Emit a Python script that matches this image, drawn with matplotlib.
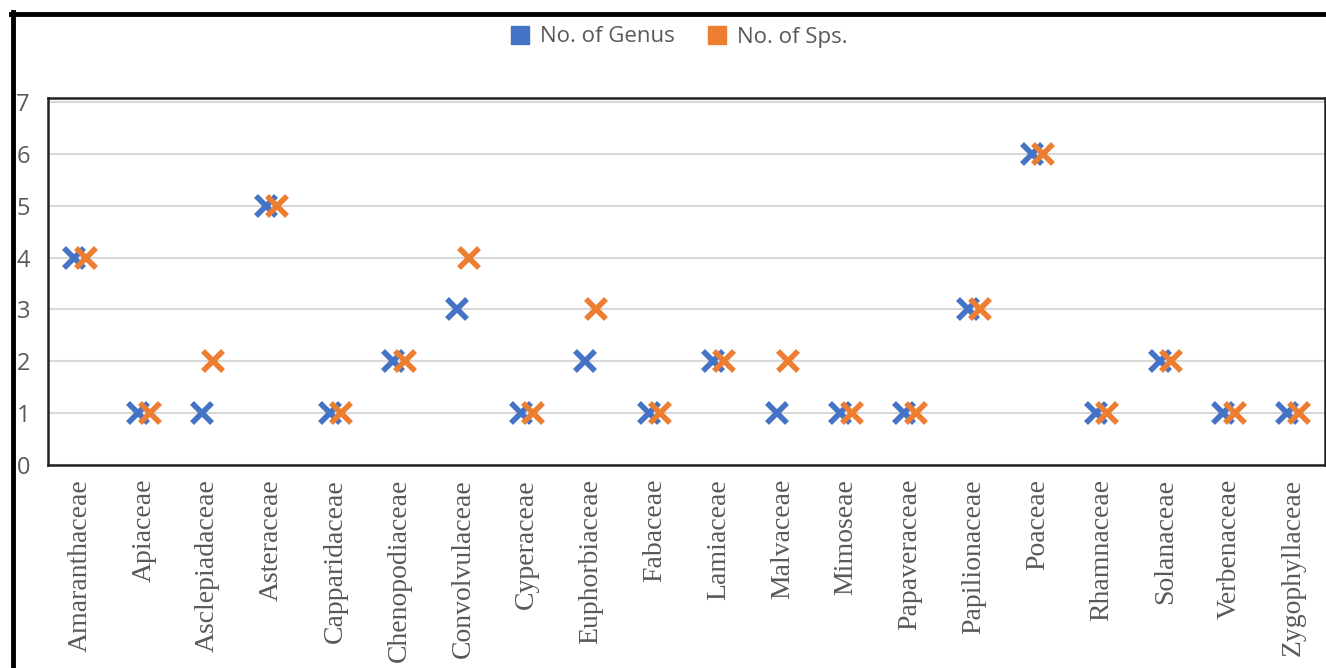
import matplotlib
matplotlib.use("Agg")
import matplotlib.pyplot as plt
from matplotlib.lines import Line2D
import numpy as np

families = ["Amaranthaceae", "Apiaceae", "Asclepiadaceae", "Asteraceae", "Capparidaceae",
            "Chenopodiaceae", "Convolvulaceae", "Cyperaceae", "Euphorbiaceae", "Fabaceae",
            "Lamiaceae", "Malvaceae", "Mimoseae", "Papaveraceae", "Papilionaceae",
            "Poaceae", "Rhamnaceae", "Solanaceae", "Verbenaceae", "Zygophyllaceae"]
genus = [4, 1, 1, 5, 1, 2, 3, 1, 2, 1, 2, 1, 1, 1, 3, 6, 1, 2, 1, 1]
species = [4, 1, 2, 5, 1, 2, 4, 1, 3, 1, 2, 2, 1, 1, 3, 6, 1, 2, 1, 1]
series_names = ["No. of Genus", "No. of Sps."]
colors = ["#4472C4", "#ED7D31"]

W, H = 1326, 668
fig = plt.figure(figsize=(W / 100, H / 100), dpi=100)
ax = fig.add_axes([48 / W, 1 - 465 / H, (1325 - 48) / W, (465 - 98) / H])

x = np.arange(len(families))
off = 0.09
for vals, col, d in [(genus, colors[0], -off), (species, colors[1], off)]:
    ax.plot(x + d, vals, linestyle="none", marker="x", markersize=14,
            markeredgewidth=4, color=col, zorder=3)

ax.set_xlim(-0.5, len(families) - 0.5)
ax.set_ylim(0, 7.08)
ax.set_yticks(range(0, 8))
ax.yaxis.grid(True, color="#D9D9D9", linewidth=1.5)
ax.set_axisbelow(True)
ax.tick_params(axis="both", length=0)
ax.tick_params(axis="y", pad=13, labelcolor="#595959")
ax.tick_params(axis="x", pad=10, labelcolor="#595959")
for lab in ax.get_yticklabels():
    lab.set_fontfamily("Open Sans")
    lab.set_fontsize(17)
ax.set_xticks(x)
ax.set_xticklabels(families, rotation=90, family="Liberation Serif", fontsize=20,
                   va="top", ha="center")
for s in ax.spines.values():
    s.set_color("#222222")
    s.set_linewidth(1.8)

handles = [Line2D([], [], linestyle="none", marker="s", markersize=13, color=c) for c in colors]
fig.legend(handles, series_names, loc="center", bbox_to_anchor=(678 / W, 1 - 37 / H), ncol=2,
           frameon=False, prop={"family": "Open Sans", "size": 16}, labelcolor="#595959",
           handletextpad=0.4, columnspacing=1.4, handlelength=1.0)

# outer border
fig.add_artist(Line2D([12.5 / W, 12.5 / W], [0, 1 - 12 / H], color="black", linewidth=3.5,
                      transform=fig.transFigure))
fig.add_artist(Line2D([11 / W, 1], [1 - 14 / H, 1 - 14 / H], color="black", linewidth=3.5,
                      transform=fig.transFigure))

fig.savefig("out.png", dpi=100, facecolor="white")
